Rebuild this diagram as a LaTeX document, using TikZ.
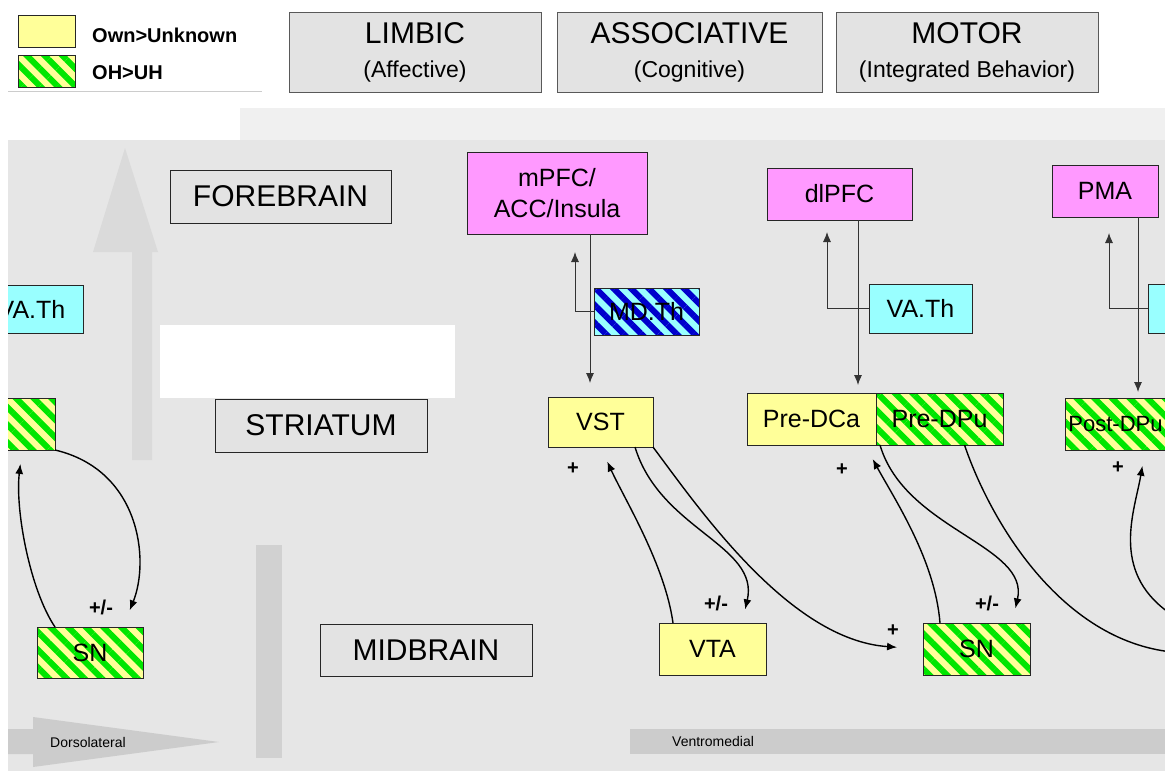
\documentclass[tikz,border=0pt]{standalone}
\usepackage{fontspec}
\setmainfont{Liberation Sans}
\usetikzlibrary{patterns.meta,arrows.meta}
\definecolor{boxyellow}{HTML}{FFFF99}
\definecolor{boxpink}{HTML}{FF99FF}
\definecolor{boxcyan}{HTML}{99FFFF}
\definecolor{hatchgreen}{HTML}{00E600}
\definecolor{hatchblue}{HTML}{0000CC}
\definecolor{panelgray}{HTML}{E6E6E6}
\definecolor{labelgray}{HTML}{E3E3E3}
\definecolor{bargray}{HTML}{CCCCCC}
\definecolor{arrowgray}{HTML}{DADADA}
\newcommand\fsz[2]{\fontsize{#1}{#2}\selectfont}
\begin{document}
\begin{tikzpicture}[x=1pt,y=-1pt,
  base/.style={draw=black!85, line width=1pt, inner sep=0pt, outer sep=0pt, anchor=north west, align=center, font=\fsz{25}{31}},
  ybox/.style={base, fill=boxyellow},
  pbox/.style={base, fill=boxpink},
  cbox/.style={base, fill=boxcyan},
  gbox/.style={base, fill=labelgray, font=\fsz{30}{34}},
  hbox/.style={base, preaction={fill=boxyellow}, pattern={Lines[angle=-45,distance=12.5pt,line width=6pt]}, pattern color=hatchgreen},
  bhbox/.style={base, preaction={fill=boxcyan}, pattern={Lines[angle=-45,distance=12.5pt,line width=6pt]}, pattern color=hatchblue},
  hdr/.style={base, fill=labelgray, draw=black!65, font=\fsz{30}{34}},
  sign/.style={font=\bfseries\fsz{20}{24}, inner sep=0pt},
  legtext/.style={font=\bfseries\fsz{20}{24}, inner sep=0pt, anchor=west},
  bartext/.style={font=\fsz{14}{16}, inner sep=0pt, anchor=west},
  loopline/.style={line width=1.4pt, -{Latex[length=10pt,width=8pt]}},
  vline/.style={line width=0.9pt, draw=black!80, -{Latex[length=10pt,width=8pt]}},
]
\useasboundingbox (0,0) rectangle (1165,771);
% background
\fill[white] (0,0) rectangle (1165,771);
\fill[panelgray] (8,140) rectangle (1165,771);
\fill[panelgray!60] (240,108) rectangle (1165,140);
\fill[white] (160,325) rectangle (455,398);
\fill[arrowgray] (125,148) -- (158,252) -- (152,252) -- (152,460) -- (132,460) -- (132,252) -- (93,252) -- cycle;
\fill[bargray!90] (256,545) rectangle (282,758);
\fill[bargray] (7,729) -- (33,729) -- (33,717) -- (219,742) -- (33,767) -- (33,754) -- (7,754) -- cycle;
\fill[bargray] (630,729) rectangle (1165,754);
\node[bartext] (dorso) at (50,742) {Dorsolateral};
\node[bartext] (ventro) at (672,741) {Ventromedial};
\draw[black!20, line width=1pt] (8,91) -- (262,91);

% legend
\node[ybox, minimum width=57pt, minimum height=32pt] (legY) at (18,15) {};
\node[hbox, minimum width=57pt, minimum height=32pt] (legH) at (18,55) {};
\node[legtext] (legYt) at (92,35) {Own>Unknown};
\node[legtext] (legHt) at (92,73) {OH>UH};

% headers
\node[hdr, minimum width=252pt, minimum height=80pt] (limbic) at (289,12) {LIMBIC\\{\fsz{23}{33}(Affective)}};
\node[hdr, minimum width=265pt, minimum height=80pt] (assoc) at (557,12) {ASSOCIATIVE\\{\fsz{23}{33}(Cognitive)}};
\node[hdr, minimum width=262pt, minimum height=80pt] (motor) at (836,12) {MOTOR\\{\fsz{23}{33}(Integrated Behavior)}};

% level labels
\node[gbox, minimum width=221pt, minimum height=53pt] (fore) at (170,170) {FOREBRAIN};
\node[gbox, minimum width=212pt, minimum height=53pt] (stria) at (215,399) {STRIATUM};
\node[gbox, minimum width=212pt, minimum height=52pt] (mid) at (320,624) {MIDBRAIN};

% cortex
\node[pbox, minimum width=180pt, minimum height=82pt] (mPFC) at (467,152) {mPFC/\\ACC/Insula};
\node[pbox, minimum width=145pt, minimum height=52pt] (dlPFC) at (767,168) {dlPFC};
\node[pbox, minimum width=106pt, minimum height=52pt] (PMA) at (1052,165) {PMA};

% thalamus
\node[bhbox, minimum width=105pt, minimum height=47pt] (MDTh) at (594,288) {MD.Th};
\node[cbox, minimum width=103pt, minimum height=49pt] (VATh) at (869,284) {VA.Th};
\node[cbox, minimum width=103pt, minimum height=48pt] (VAThL) at (-20,285) {VA.Th};
\node[cbox, minimum width=103pt, minimum height=49pt] (VAThR) at (1148,284) {};

% striatum
\node[ybox, minimum width=105pt, minimum height=50pt] (VST) at (548,397) {VST};
\node[ybox, minimum width=129pt, minimum height=52pt] (PreDCa) at (747,393) {Pre-DCa};
\node[hbox, minimum width=127pt, minimum height=52pt] (PreDPu) at (876,393) {Pre-DPu};
\node[hbox, minimum width=101pt, minimum height=52pt, font=\fsz{22}{26}] (PostDPu) at (1065,398) {Post-DPu};
\node[hbox, minimum width=115pt, minimum height=52pt] (PostL) at (-60,398) {};

% midbrain
\node[ybox, minimum width=107pt, minimum height=52pt] (VTA) at (659,623) {VTA};
\node[hbox, minimum width=107pt, minimum height=52pt] (SN) at (923,623) {SN};
\node[hbox, minimum width=106pt, minimum height=51pt] (SNL) at (37,627) {SN};

% cortex - thalamus - striatum connectors
\draw[vline, shorten >=14pt] ([xshift=33pt]mPFC.south) -- ([xshift=33pt]mPFC.south |- VST.north);
\draw[vline, shorten >=18pt] (MDTh.west) -| ([xshift=18pt]mPFC.south);
\draw[vline, shorten >=8pt] ([xshift=18.5pt]dlPFC.south) -- ([xshift=18.5pt]dlPFC.south |- PreDCa.north);
\draw[vline, shorten >=12pt] (VATh.west) -| ([xshift=-12.5pt]dlPFC.south);
\draw[vline, shorten >=6pt] ([xshift=33pt]PMA.south) -- ([xshift=33pt]PMA.south |- PostDPu.north);
\draw[vline, shorten >=16pt] (VAThR.west) -| ([xshift=4pt]PMA.south);

% striato-nigral loops
\coordinate (offR) at (1172,652);
\coordinate (offM) at (1168,612);
\draw[loopline, shorten >=16pt] ([xshift=14pt]VTA.north west) .. controls (665,565) and (625,500) .. (VST.south);
\draw[loopline, shorten >=14pt] ([xshift=87pt]VST.south west) .. controls (660,530) and (760,545) .. ([xshift=83pt]VTA.north west);
\draw[loopline, shorten >=26pt] (VST.south east) .. controls (700,510) and (790,640) .. (SN.west);
\draw[loopline, shorten >=16pt] ([xshift=17pt]SN.north west) .. controls (935,560) and (895,500) .. ([xshift=118pt]PreDCa.south west);
\draw[loopline, shorten >=15pt] ([xshift=133pt]PreDCa.south west) .. controls (905,530) and (1030,545) .. ([xshift=89pt]SN.north west);
\draw[line width=1.4pt] ([xshift=25pt]PreDPu.south) .. controls (990,520) and (1060,640) .. (offR);
\draw[loopline, shorten >=16pt] (offM) .. controls (1110,570) and (1135,510) .. ([xshift=80pt]PostDPu.south west);
\draw[loopline, shorten >=14pt] ([xshift=18pt]SNL.north west) .. controls (30,590) and (15,510) .. ([xshift=82pt]PostL.south west);
\draw[loopline, shorten >=18pt] (PostL.south east) .. controls (140,470) and (150,560) .. ([xshift=86pt]SNL.north west);

% signs
\node[sign] (s1) at (573,469) {+};
\node[sign] (s2) at (842,470) {+};
\node[sign] (s3) at (1118,468) {+};
\node[sign] (s4) at (893,631) {+};
\node[sign] (pm1) at (716,603) {+/-};
\node[sign] (pm2) at (987,603) {+/-};
\node[sign] (pm3) at (101,607) {+/-};

% left margin
\fill[white] (0,100) rectangle (8,771);
\end{tikzpicture}
\end{document}
